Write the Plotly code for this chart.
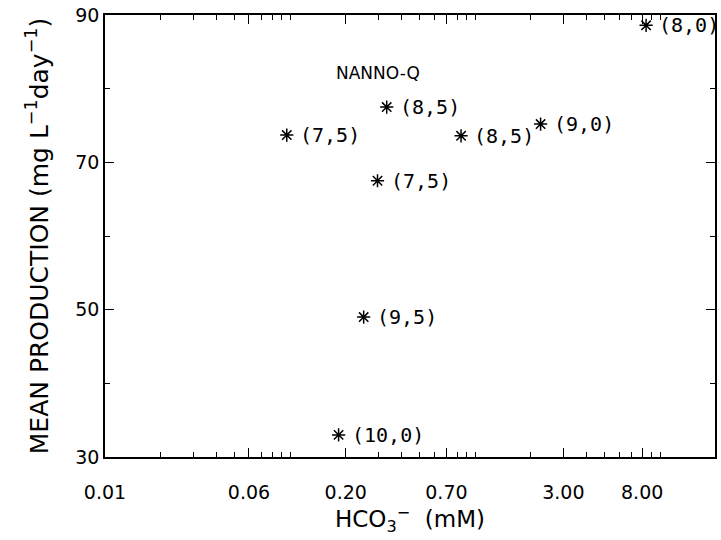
import plotly.graph_objects as go
import numpy as np

# Data (HCO3- in mM, mean production in mg L-1 day-1, label = pH)
hco3 = [8.4, 0.333, 0.096, 0.84, 2.26, 0.297, 0.25, 0.183]
production = [88.6, 77.5, 73.7, 73.6, 75.2, 67.5, 49.0, 33.0]
labels = ["(8,0)", "(8,5)", "(7,5)", "(8,5)", "(9,0)", "(7,5)", "(9,5)", "(10,0)"]

x_tickvals = [0.01, 0.06, 0.2, 0.7, 3, 8]
x_ticktext = ["0.01", "0.06", "0.20", "0.70", "3.00", "8.00"]
x_minor = [m * 10.0 ** e for e in (-2, -1, 0, 1) for m in range(1, 10)
           if m * 10.0 ** e < 20 and m * 10.0 ** e not in x_tickvals]
y_tickvals = [30, 50, 70, 90]
y_minor = [40, 60, 80]

fig = go.Figure()
fig.add_trace(go.Scatter(
    x=hco3, y=production, mode="markers",
    marker=dict(symbol="asterisk-open", size=11, color="black",
                line=dict(color="black", width=1.5)),
    cliponaxis=False, showlegend=False,
))

for xv, yv, lab in zip(hco3, production, labels):
    fig.add_annotation(x=np.log10(xv), y=yv, text=lab, showarrow=False,
                       xanchor="left", yanchor="middle", xshift=11,
                       font=dict(family="DejaVu Sans Mono", size=20, color="black"))

fig.add_annotation(x=np.log10(0.297), y=82.1, text="NANNO-Q", showarrow=False,
                   font=dict(family="DejaVu Sans", size=17, color="black"))

axis_common = dict(showline=True, linecolor="black", linewidth=1.5, mirror="allticks",
                   ticks="inside", ticklen=9, tickwidth=1.2, tickcolor="black",
                   showgrid=False, zeroline=False,
                   tickfont=dict(family="DejaVu Sans", size=19, color="black"))

fig.update_xaxes(type="log", range=[-2, np.log10(19.8)], tickmode="array",
                 tickvals=x_tickvals, ticktext=x_ticktext, ticklabelstandoff=17,
                 minor=dict(tickmode="array", tickvals=x_minor, ticks="inside",
                            ticklen=5, tickwidth=1.2, tickcolor="black", showgrid=False),
                 title=dict(text="HCO<sub>3</sub><sup>−</sup>  (mM)",
                            font=dict(family="DejaVu Sans", size=23, color="black"),
                            standoff=6),
                 **axis_common)
fig.update_yaxes(range=[30, 90], tickmode="array", tickvals=y_tickvals,
                 minor=dict(tickmode="array", tickvals=y_minor, ticks="inside",
                            ticklen=5, tickwidth=1.2, tickcolor="black", showgrid=False),
                 title=dict(text="MEAN PRODUCTION (mg L<sup>−1</sup>day<sup>−1</sup>)",
                            font=dict(family="DejaVu Sans", size=25, color="black"),
                            standoff=20),
                 **axis_common)

fig.update_layout(width=721, height=540, plot_bgcolor="white", paper_bgcolor="white",
                  margin=dict(l=105, r=4, t=12, b=83))

fig.write_html("out.html")
